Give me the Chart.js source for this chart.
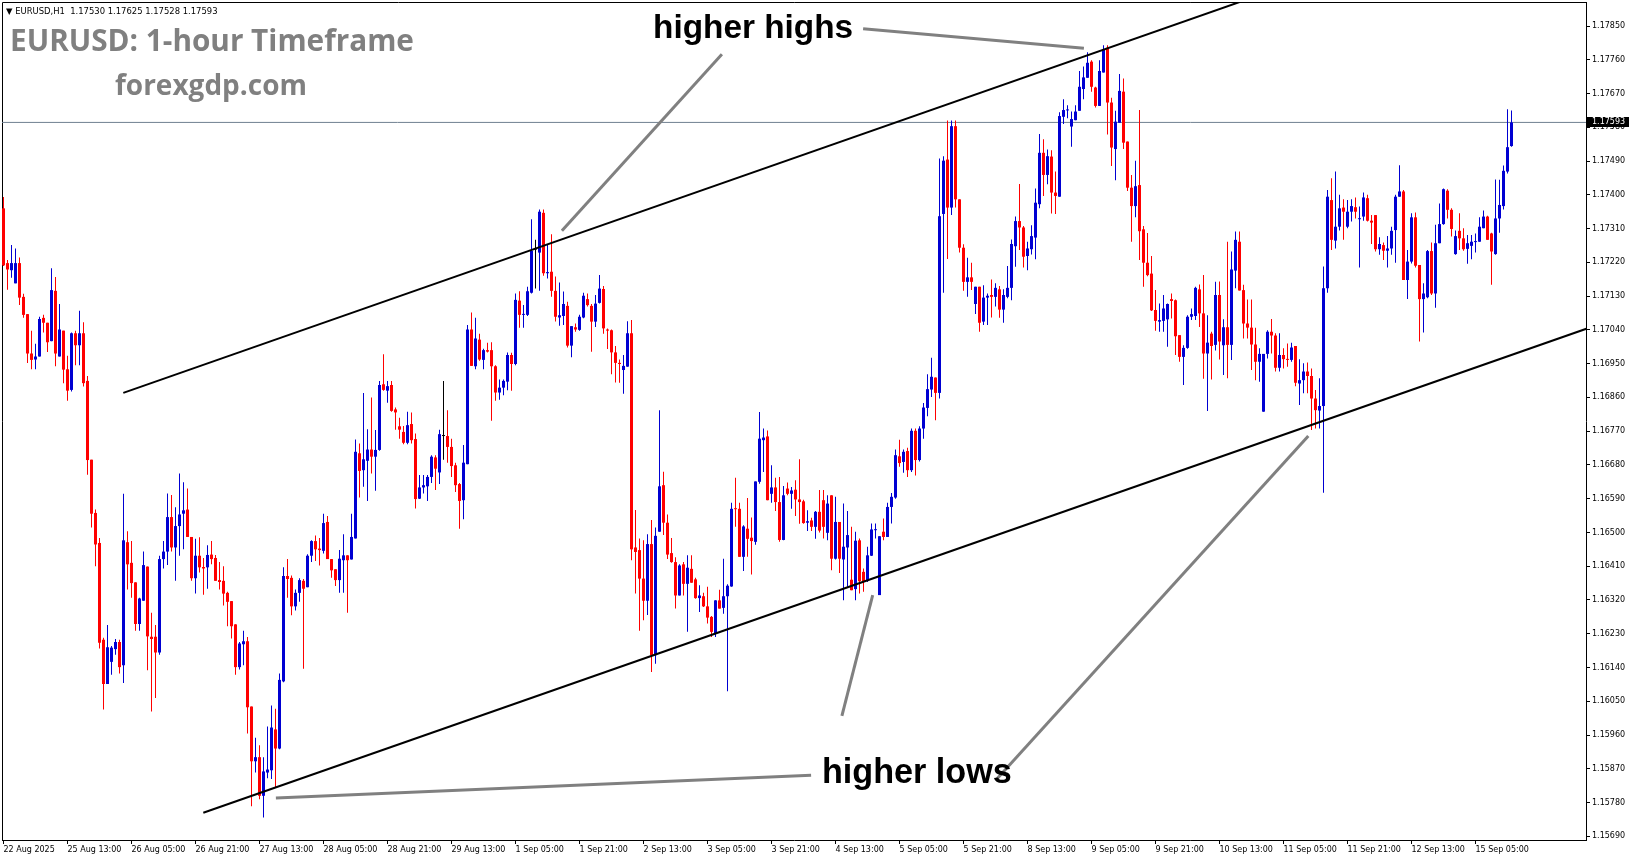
<!DOCTYPE html>
<html>
<head>
<meta charset="utf-8">
<title>EURUSD H1</title>
<script src="https://cdn.jsdelivr.net/npm/chart.js@4.4.0/dist/chart.umd.min.js"></script>
<style>
  html, body { margin: 0; padding: 0; background: #fff; overflow: hidden; }
  #chart { display: block; }
</style>
</head>
<body>
<canvas id="chart" width="1631" height="861"></canvas>
<script>
// EURUSD H1 bars, 22 Aug 21:00 -> 15 Sep 14:00 (378 bars)
// prices are written in pips above 1.15000
const BASE = 1.15;

const opens = [
  236.4,221.8,219.9,216.4,221.8,212.8,208.2,197.7,196.1,196.9,
  207.2,205.9,201.0,214.4,196.9,203.8,193.5,188.0,203.1,199.9,
  203.1,190.4,169.4,155.2,147.2,121.4,109.6,115.5,118.9,120.8,
  114.6,147.4,141.9,136.7,125.6,131.8,140.9,122.2,122.2,118.0,
  142.9,144.9,154.1,146.0,151.7,155.0,156.1,148.8,137.8,143.8,
  140.8,140.7,144.1,143.2,137.3,137.1,133.9,131.7,125.5,114.1,
  120.2,121.0,103.6,89.0,90.1,79.8,86.0,86.6,97.5,92.4,
  110.3,138.4,137.9,130.3,133.9,137.1,135.4,143.8,147.7,145.7,
  145.1,152.8,142.9,140.2,137.3,142.6,143.9,142.8,148.4,171.1,
  166.6,169.1,172.1,170.2,172.0,189.5,187.8,189.3,182.8,178.3,
  176.8,173.9,178.9,174.9,159.0,162.0,162.3,164.8,170.0,166.0,
  175.7,175.7,172.8,167.9,162.9,158.6,168.2,204.1,194.3,201.4,
  196.0,198.6,198.6,194.3,187.3,188.6,190.2,197.3,194.9,211.8,
  208.0,208.0,213.9,225.4,224.6,235.2,219.1,219.5,214.4,207.3,
  207.7,210.4,199.8,204.7,204.0,207.3,212.2,210.4,206.2,211.2,
  214.9,204.1,203.9,198.0,195.2,193.3,194.2,203.1,146.0,145.3,
  137.7,131.8,146.9,117.3,150.2,162.6,152.6,144.5,142.1,133.2,
  141.5,136.3,140.3,137.5,132.5,133.0,130.3,127.5,123.0,131.9,
  129.9,133.0,135.6,156.4,156.3,143.5,151.0,148.6,147.5,163.5,
  174.6,175.6,160.3,162.0,158.1,148.0,161.7,160.3,161.4,158.8,
  158.3,152.6,153.2,151.5,155.5,158.6,149.9,159.9,143.0,152.8,
  142.8,146.0,137.4,134.9,147.9,139.5,137.3,143.8,150.6,133.3,
  150.2,148.8,156.8,159.3,170.3,168.8,171.7,166.6,177.1,169.3,
  177.7,183.2,188.1,191.3,187.2,234.9,249.4,236.6,258.3,238.8,
  225.9,216.8,218.0,210.9,215.5,206.2,212.6,213.3,212.8,214.8,
  209.4,212.8,215.2,226.3,233.0,231.3,223.7,225.5,228.6,237.5,
  251.2,245.3,250.2,240.6,239.5,260.8,262.5,258.2,259.9,262.4,
  268.2,271.2,275.5,268.6,263.7,272.6,279.2,264.6,252.2,259.2,
  267.5,254.2,241.9,237.0,242.6,230.8,221.9,219.0,209.3,206.2,
  206.4,206.8,212.2,211.9,202.6,196.8,199.2,207.5,207.7,214.8,
  208.4,197.7,203.0,200.0,213.3,199.9,204.7,200.0,219.8,227.5,
  214.6,205.7,204.6,200.1,195.5,182.2,197.6,203.5,202.5,193.9,
  197.3,196.2,196.0,199.7,189.7,190.6,192.9,191.7,185.7,182.5,
  183.7,215.1,238.6,227.8,231.5,236.6,231.5,235.5,236.7,233.5,
  234.2,239.1,233.1,234.6,225.5,226.6,225.1,225.7,230.6,239.5,
  240.9,217.3,222.2,234.0,221.3,212.2,212.7,225.0,213.7,227.1,
  232.2,241.1,236.0,224.2,230.4,228.4,225.6,226.4,227.4,227.5,
  231.1,234.2,229.7,224.2,233.7,237.0,246.2,253.0
];

const highs = [
  239.4,222.6,226.6,225.7,223.3,213.6,208.2,203.8,200.3,207.5,
  208.0,205.9,220.4,218.1,210.9,203.8,197.1,203.3,203.8,209.1,
  206.0,191.7,169.4,156.1,148.5,121.9,125.3,119.7,121.6,121.4,
  160.3,150.3,147.7,136.7,132.6,144.9,140.9,128.6,125.3,143.8,
  147.7,160.4,160.0,156.7,165.7,163.4,161.7,148.8,148.3,148.7,
  143.2,146.6,147.7,144.0,142.1,141.0,134.2,131.7,125.5,120.8,
  123.8,122.1,103.6,95.3,93.3,90.1,98.3,103.9,103.0,112.4,
  140.7,142.9,138.5,134.8,137.8,137.6,144.2,147.9,149.2,148.5,
  155.0,154.4,142.9,140.2,145.3,149.5,143.9,155.0,174.8,173.7,
  187.2,177.5,186.0,177.3,190.4,197.5,190.4,190.4,183.3,180.6,
  178.4,182.2,182.0,176.4,165.3,165.3,165.3,170.6,170.6,177.4,
  190.4,182.6,175.0,168.6,163.2,173.3,205.3,208.6,207.2,203.0,
  199.0,200.6,200.7,194.6,190.8,190.8,198.0,197.9,213.7,214.3,
  210.6,215.5,233.5,228.0,236.1,236.1,226.6,229.5,218.2,216.6,
  214.2,211.5,205.0,205.7,208.0,213.9,213.7,210.9,213.3,218.6,
  215.7,204.4,204.1,199.7,196.1,197.3,206.3,206.6,156.0,148.4,
  147.9,149.5,153.3,151.3,182.6,166.2,154.8,148.5,143.4,141.5,
  142.1,143.9,143.9,137.9,135.9,133.9,135.5,127.7,131.9,134.7,
  143.0,136.2,157.9,164.6,157.9,151.9,159.2,154.0,163.6,182.1,
  177.7,177.2,167.9,164.6,164.8,162.4,163.3,162.1,163.9,169.5,
  158.7,155.9,153.9,155.7,161.3,161.3,159.9,159.9,159.5,152.8,
  157.7,155.7,151.5,150.2,148.4,140.4,146.2,152.4,152.4,149.0,
  153.7,157.9,160.5,172.1,174.7,172.1,172.6,177.7,177.7,178.3,
  184.5,192.2,196.6,191.3,249.7,250.3,259.8,259.8,259.8,238.8,
  226.8,223.2,221.9,215.5,215.5,215.9,213.7,217.4,216.4,215.7,
  214.8,221.0,228.1,234.2,242.9,231.7,227.5,231.9,241.7,256.2,
  254.8,252.1,251.9,246.2,262.0,265.5,263.9,262.2,263.9,273.0,
  274.2,278.0,275.9,268.8,275.9,279.9,279.9,265.9,262.4,272.2,
  271.0,254.2,245.3,249.1,262.6,231.7,229.8,223.7,214.6,211.0,
  213.3,211.0,213.7,212.1,202.6,199.9,207.9,209.7,215.5,216.1,
  218.6,207.9,203.5,216.8,216.9,206.8,227.5,224.9,230.2,230.2,
  216.0,212.1,212.1,204.6,199.1,197.6,203.9,206.9,203.1,203.1,
  199.1,200.4,200.6,199.7,196.2,195.1,195.3,193.7,188.0,191.1,
  220.9,241.3,244.4,246.2,240.0,238.8,238.6,238.8,239.3,236.9,
  240.6,240.0,234.6,234.6,228.7,227.3,229.0,231.5,240.0,247.9,
  241.3,225.3,235.1,235.3,221.3,216.4,225.3,227.3,232.0,237.7,
  241.7,241.5,236.4,230.5,235.1,231.1,229.3,229.3,229.7,234.0,
  235.8,234.4,229.9,244.1,244.0,247.8,262.8,262.5
];

const lows = [
  221.0,214.7,217.9,216.4,210.6,207.2,195.2,193.5,193.5,196.9,
  203.3,198.1,201.0,194.3,196.9,189.8,185.1,187.6,194.6,194.6,
  188.9,165.4,151.3,141.0,119.1,102.8,109.6,112.1,117.4,112.4,
  109.9,134.8,132.6,123.8,123.8,131.8,113.3,102.3,105.9,117.4,
  140.4,141.3,144.9,137.1,143.8,145.5,148.8,137.1,133.7,139.3,
  133.4,135.0,141.5,137.1,134.8,130.5,125.0,121.7,112.1,113.5,
  114.6,96.4,77.0,86.0,78.9,74.0,84.5,84.3,82.0,92.2,
  110.1,132.6,127.9,129.2,131.5,113.7,135.4,142.1,142.4,141.2,
  144.4,142.9,137.9,135.7,133.9,133.9,128.6,142.8,148.4,159.3,
  162.2,158.4,165.7,161.1,171.8,187.8,184.6,182.2,177.4,175.0,
  173.5,173.5,173.7,156.4,158.9,160.4,158.4,163.2,161.3,162.9,
  169.4,168.6,164.8,160.8,151.0,153.5,168.2,194.4,193.5,195.8,
  193.5,198.0,179.8,185.1,185.4,186.6,187.9,187.8,194.6,204.6,
  204.6,207.7,213.7,215.0,214.4,218.4,217.7,212.8,206.2,205.1,
  205.3,199.3,196.7,203.5,203.8,207.1,210.2,198.2,204.8,211.0,
  203.0,198.9,192.2,190.0,189.9,187.0,194.2,142.6,133.7,123.8,
  126.6,128.0,112.8,115.0,150.2,149.3,142.9,141.9,129.7,133.2,
  133.2,123.5,136.6,132.3,128.8,130.1,125.7,122.1,122.1,129.7,
  128.3,107.7,135.5,151.5,143.5,139.7,143.5,138.8,146.7,163.0,
  166.1,158.6,157.9,155.7,147.5,147.9,159.9,156.3,154.4,152.3,
  152.3,150.4,150.4,148.3,150.0,148.4,147.9,139.9,142.8,139.2,
  131.9,135.5,134.6,131.9,133.7,134.2,136.8,143.7,148.4,133.3,
  147.9,148.8,152.4,159.0,167.5,165.9,164.8,166.1,165.2,168.9,
  175.0,181.0,186.1,179.9,185.7,213.9,222.9,234.6,236.6,224.6,
  214.4,212.8,214.6,208.2,203.5,205.3,205.3,207.3,210.2,207.2,
  205.9,212.4,211.9,220.8,225.3,220.6,219.9,224.1,222.8,236.4,
  239.7,242.8,235.0,234.9,239.5,258.9,260.4,252.8,259.9,262.4,
  265.5,271.2,267.5,263.3,263.7,272.6,256.1,247.7,243.9,259.2,
  252.2,241.0,227.5,234.0,222.6,215.5,218.3,209.0,203.8,203.5,
  203.5,199.5,207.0,197.3,195.5,189.3,199.0,206.6,206.6,204.8,
  191.0,182.4,190.8,198.5,196.1,192.0,191.1,196.0,215.1,214.5,
  201.7,201.7,193.3,190.6,190.2,182.2,196.4,197.7,192.9,192.9,
  193.7,194.2,195.5,189.0,184.0,187.1,187.1,177.3,177.7,177.7,
  160.6,213.9,225.3,225.7,230.5,228.0,231.1,232.9,233.7,220.6,
  233.1,232.9,226.9,224.9,224.0,222.6,220.6,224.0,221.9,239.5,
  217.3,212.2,221.7,220.6,200.9,203.3,212.4,213.3,209.9,227.1,
  232.0,233.7,228.9,224.0,225.3,225.1,221.6,222.8,224.6,227.5,
  231.1,228.0,216.0,224.0,229.9,236.1,245.7,252.8
];

const closes = [
  221.2,220.1,221.8,221.8,212.6,208.0,197.7,196.0,196.9,206.9,
  205.9,200.7,214.6,197.7,204.1,193.4,187.8,203.1,199.9,203.1,
  189.8,169.3,155.0,146.8,120.6,109.6,119.4,119.3,120.8,114.1,
  147.9,141.5,136.5,125.6,132.4,141.3,122.3,121.6,118.0,142.9,
  144.9,154.1,146.0,151.7,154.8,155.9,148.8,137.8,143.8,140.7,
  140.4,144.0,142.9,137.1,136.8,133.7,131.5,125.0,114.1,120.4,
  121.0,103.4,89.0,90.1,79.8,86.3,86.8,98.0,92.4,110.7,
  138.4,137.6,130.3,133.9,137.3,135.0,143.8,147.7,145.5,145.3,
  152.5,142.9,139.9,137.3,143.0,143.9,142.6,148.8,171.5,166.4,
  169.5,172.1,170.2,172.0,189.3,188.0,189.0,182.4,182.0,177.4,
  173.9,178.6,174.6,158.9,162.0,162.6,164.8,170.2,167.0,176.2,
  175.7,172.8,167.7,162.6,158.4,168.6,204.1,194.4,201.7,196.1,
  198.6,198.2,194.3,187.3,188.6,190.4,197.3,194.9,212.0,208.0,
  208.2,214.3,225.1,225.4,235.5,219.1,219.4,214.4,207.5,207.9,
  210.9,199.8,205.0,204.1,207.5,213.1,210.6,206.2,211.0,215.0,
  204.4,203.8,198.0,195.2,194.9,194.4,203.1,145.5,144.8,137.7,
  131.8,146.9,117.3,149.1,162.3,152.6,144.1,142.1,133.2,141.2,
  136.3,140.6,136.6,132.5,133.2,130.3,127.3,123.5,131.9,129.7,
  133.0,135.8,156.3,156.2,143.5,151.6,148.3,147.7,163.6,175.0,
  175.3,158.6,162.0,158.1,148.0,159.9,160.3,161.2,158.8,158.1,
  152.5,153.0,151.5,155.5,150.5,151.5,157.7,143.0,152.8,143.0,
  146.2,149.3,134.6,147.8,137.0,137.0,143.9,150.8,150.8,149.0,
  148.8,156.8,159.5,170.6,168.5,171.5,166.6,177.1,169.3,177.7,
  183.3,188.2,191.5,187.2,234.3,249.1,236.6,258.3,238.8,225.9,
  216.8,218.0,216.8,215.5,205.9,212.6,213.1,212.8,215.2,209.4,
  213.3,215.2,226.9,233.0,231.3,223.5,225.7,229.0,237.9,251.2,
  245.3,250.3,240.6,239.7,261.0,262.6,262.6,260.2,262.2,268.8,
  271.3,275.2,268.8,263.7,273.0,278.8,264.6,252.6,259.5,267.7,
  253.9,241.9,237.0,242.3,230.3,221.9,218.6,209.2,206.4,206.6,
  209.7,210.9,211.7,202.3,196.8,199.2,207.5,208.2,215.2,208.4,
  197.7,200.6,199.7,213.3,200.9,204.7,200.0,220.1,228.0,214.5,
  205.7,204.6,200.1,195.5,197.6,197.6,203.5,202.5,193.9,197.3,
  196.2,196.0,199.3,189.9,190.6,192.9,191.7,185.7,182.6,183.7,
  215.1,239.5,228.0,231.5,236.4,235.5,235.5,237.0,235.5,233.7,
  239.3,233.1,232.6,225.5,226.9,225.1,225.7,230.4,239.5,240.9,
  217.3,222.2,234.0,221.1,212.2,213.7,225.0,213.7,227.1,232.2,
  241.5,236.0,230.9,229.0,228.4,225.5,227.1,227.5,227.5,231.5,
  234.2,228.0,224.9,233.7,237.3,246.4,252.7,259.3
];

// time axis: bar index of each label and its text
const xTickIdx = [0,16,32,48,64,80,96,112,128,144,160,176,192,208,224,240,256,272,288,304,320,336,352,368];
const xTickText = ['22 Aug 2025','25 Aug 13:00','26 Aug 05:00','26 Aug 21:00','27 Aug 13:00','28 Aug 05:00',
  '28 Aug 21:00','29 Aug 13:00','1 Sep 05:00','1 Sep 21:00','2 Sep 13:00','3 Sep 05:00','3 Sep 21:00',
  '4 Sep 13:00','5 Sep 05:00','5 Sep 21:00','8 Sep 13:00','9 Sep 05:00','9 Sep 21:00','10 Sep 13:00',
  '11 Sep 05:00','11 Sep 21:00','12 Sep 13:00','15 Sep 05:00'];

// price axis labels
const yTicks = [1.1569,1.1578,1.1587,1.1596,1.1605,1.1614,1.1623,1.1632,1.1641,1.1650,1.1659,1.1668,1.1677,
  1.1686,1.1695,1.1704,1.1713,1.1722,1.1731,1.1740,1.1749,1.1758,1.1767,1.1776,1.1785];

// channel lines [bar index, pips]
const channelTop = [[29.95, 187.2], [312, 292.5]];
const channelBottom = [[49.95, 75.3], [396, 204.4]];

// grey pointer lines from the captions [bar index, pips]
const pointers = [
  [[214.9, 284.3], [270.1, 279.1]],
  [[179.6, 277.5], [139.6, 230.4]],
  [[201.9, 85.3], [68.1, 79.2]],
  [[209.6, 101.1], [217.3, 133.3]],
  [[248.1, 84.0], [326.2, 175.7]]
];
const captions = [
  { text: 'higher highs', at: [162.4, 281.7], width: 200 },
  { text: 'higher lows', at: [204.6, 83.2], width: 190 }
];

const px = p => +(BASE + p / 10000).toFixed(6);
const n = opens.length;
const idx = opens.map((_, i) => i);

const UP = 'rgb(0,0,210)', DOWN = '#ff0000', FLAT = '#000000';
const colors = idx.map(i => closes[i] > opens[i] ? UP : (closes[i] < opens[i] ? DOWN : FLAT));

const wickData = idx.map(i => ({ x: i, y: [px(Math.min(lows[i], opens[i], closes[i])), px(Math.max(highs[i], opens[i], closes[i]))] }));
const bodyData = idx.map(i => ({ x: i, y: [px(opens[i]), px(closes[i])] }));

const toPts = seg => seg.map(([i, v]) => ({ x: i, y: px(v) }));
const lastPrice = px(closes[n - 1]);

const lineSet = (data, color, w, order) => ({
  type: 'line', data, borderColor: color, borderWidth: w, pointRadius: 0,
  tension: 0, fill: false, order, borderCapStyle: 'butt'
});

const datasets = [
  lineSet([{ x: -2, y: lastPrice }, { x: 400, y: lastPrice }], '#6f8090', 1, 5),
  { type: 'bar', data: wickData, backgroundColor: colors, barThickness: 1, grouped: false,
    borderWidth: 0, inflateAmount: 0, minBarLength: 1, order: 4 },
  { type: 'bar', data: bodyData, backgroundColor: colors, barThickness: 3, grouped: false,
    borderWidth: 0, inflateAmount: 0, minBarLength: 1, order: 3 },
  lineSet(toPts(channelTop), '#000', 2, 1),
  lineSet(toPts(channelBottom), '#000', 2, 1)
].concat(pointers.map(seg => lineSet(toPts(seg), '#808080', 3, 0)));

function fitFont(ctx, text, weight, family, width) {
  ctx.font = weight + ' 100px ' + family;
  const w = ctx.measureText(text).width;
  return weight + ' ' + (100 * width / w).toFixed(2) + 'px ' + family;
}

const frame = {
  id: 'frame',
  beforeDatasetsDraw(chart) {
    const { ctx, chartArea: a } = chart;
    ctx.save();
    ctx.strokeStyle = '#000';
    ctx.lineWidth = 1;
    ctx.beginPath();
    ctx.moveTo(a.left + 0.5, a.bottom);
    ctx.lineTo(a.left + 0.5, a.top + 0.5);
    ctx.lineTo(a.right, a.top + 0.5);
    ctx.stroke();
    ctx.restore();
  }
};

const labels = {
  id: 'labels',
  afterDraw(chart) {
    const { ctx, chartArea: a, scales: { x, y } } = chart;
    ctx.save();
    ctx.textAlign = 'left';

    // header line
    ctx.fillStyle = '#000';
    const head = '\u25BC EURUSD,H1  1.17530 1.17625 1.17528 1.17593';
    ctx.font = fitFont(ctx, head, 'normal', '"DejaVu Sans"', 212);
    ctx.textBaseline = 'middle';
    ctx.fillText(head, 6, 11.5);

    // watermark titles
    ctx.textBaseline = 'alphabetic';
    ctx.fillStyle = '#808080';
    ctx.font = fitFont(ctx, 'EURUSD: 1-hour Timeframe', 'bold', '"Open Sans"', 404);
    ctx.fillText('EURUSD: 1-hour Timeframe', 10, 51);
    ctx.font = fitFont(ctx, 'forexgdp.com', 'bold', '"Open Sans"', 192);
    ctx.fillText('forexgdp.com', 115, 95);

    // captions
    ctx.fillStyle = '#000';
    captions.forEach(c => {
      ctx.font = fitFont(ctx, c.text, 'bold', '"Liberation Sans"', c.width);
      ctx.fillText(c.text, x.getPixelForValue(c.at[0]), y.getPixelForValue(px(c.at[1])));
    });

    // current price tag on the axis
    const yy = Math.round(y.getPixelForValue(lastPrice));
    ctx.fillStyle = '#000';
    ctx.fillRect(a.right + 1, yy - 5, 42, 10);
    ctx.fillStyle = '#fff';
    ctx.font = '8px "DejaVu Sans"';
    ctx.textBaseline = 'middle';
    ctx.fillText(lastPrice.toFixed(5), a.right + 6, yy);
    ctx.restore();
  }
};

const axisFont = { family: '"DejaVu Sans"', size: 8 };

new Chart(document.getElementById('chart'), {
  type: 'bar',
  data: { datasets },
  options: {
    responsive: false,
    animation: false,
    devicePixelRatio: 1,
    events: [],
    layout: { padding: { left: 2, top: 2, right: 0, bottom: 0 } },
    plugins: { legend: { display: false }, tooltip: { enabled: false } },
    scales: {
      x: {
        type: 'linear', min: -0.375, max: 395.625, offset: false, bounds: 'data',
        afterBuildTicks: s => { s.ticks = xTickIdx.map(v => ({ value: v })); },
        afterFit: s => { s.height = 21; s.paddingLeft = 0; s.paddingRight = 0; },
        grid: { drawOnChartArea: false, drawTicks: true, tickLength: 4, color: '#000', offset: false },
        border: { display: true, color: '#000', width: 1 },
        ticks: {
          autoSkip: false, maxRotation: 0, minRotation: 0, align: 'start', padding: 1,
          color: '#000', font: axisFont,
          callback: v => xTickText[xTickIdx.indexOf(v)]
        }
      },
      y: {
        type: 'linear', position: 'right', min: 1.156802, max: 1.179140, bounds: 'data',
        afterBuildTicks: s => { s.ticks = yTicks.map(v => ({ value: v })); },
        afterFit: s => { s.width = 45; s.paddingTop = 0; s.paddingBottom = 0; },
        grid: { drawOnChartArea: false, drawTicks: true, tickLength: 4, color: '#000' },
        border: { display: true, color: '#000', width: 1 },
        ticks: {
          autoSkip: false, padding: 2, color: '#000', font: axisFont,
          callback: v => v.toFixed(5)
        }
      }
    }
  },
  plugins: [frame, labels]
});
</script>
</body>
</html>
